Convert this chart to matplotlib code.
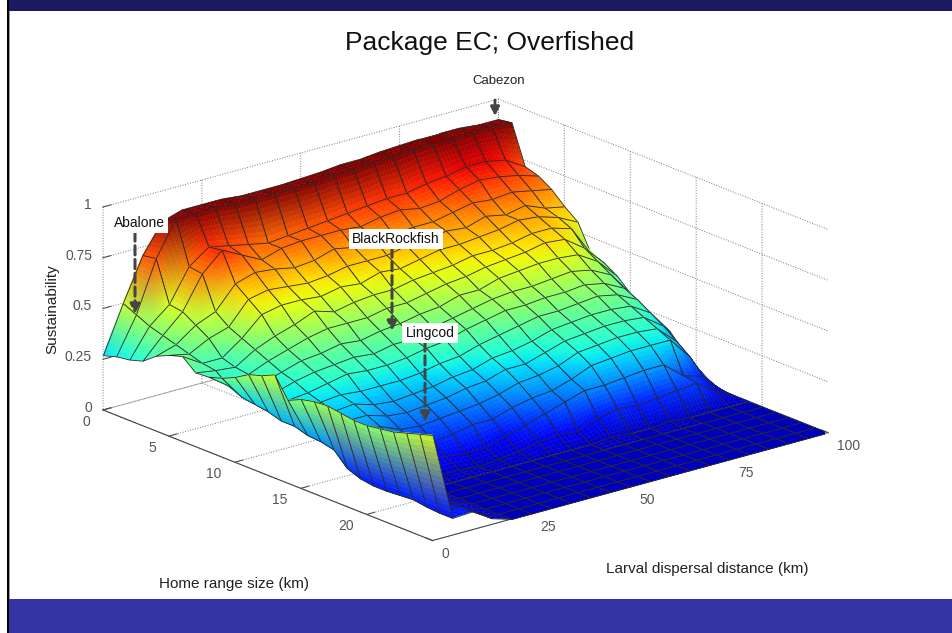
import numpy as np
import matplotlib
matplotlib.use("Agg")
import matplotlib.pyplot as plt
from matplotlib.patches import Rectangle
from mpl_toolkits.mplot3d.art3d import Poly3DCollection
from mpl_toolkits.mplot3d import proj3d

plt.rcParams['font.family'] = ['Liberation Sans', 'DejaVu Sans']

home_range = list(range(0, 26))
dispersal = list(range(0, 105, 5))
sustainability = [
 [.27,.50,.71,.85,.88,.88,.88,.87,.87,.87,.875,.88,.89,.89,.90,.905,.91,.91,.91,.90,.90],
 [.29,.47,.72,.888,.89,.89,.88,.88,.88,.88,.88,.89,.89,.90,.90,.91,.91,.91,.915,.915,.91],
 [.30,.44,.52,.68,.75,.73,.71,.69,.70,.71,.72,.73,.74,.75,.75,.77,.78,.80,.80,.78,.72],
 [.32,.42,.51,.67,.76,.71,.66,.69,.70,.70,.70,.69,.71,.72,.70,.71,.74,.76,.75,.73,.70],
 [.37,.40,.47,.51,.62,.65,.64,.62,.63,.66,.64,.66,.65,.66,.66,.68,.70,.69,.70,.68,.66],
 [.40,.38,.43,.46,.57,.59,.58,.57,.58,.60,.60,.60,.62,.62,.64,.63,.66,.64,.66,.62,.60],
 [.42,.36,.36,.43,.52,.54,.54,.53,.55,.54,.57,.56,.58,.60,.60,.61,.62,.64,.63,.60,.55],
 [.365,.35,.34,.40,.44,.47,.51,.48,.50,.51,.51,.53,.54,.55,.57,.57,.58,.60,.60,.57,.42],
 [.37,.30,.33,.37,.40,.43,.45,.45,.45,.47,.47,.49,.51,.52,.54,.55,.56,.58,.57,.50,.40],
 [.39,.27,.31,.34,.37,.38,.40,.39,.41,.42,.44,.45,.48,.48,.51,.52,.53,.53,.52,.46,.36],
 [.42,.26,.29,.32,.34,.35,.36,.35,.37,.37,.40,.42,.44,.46,.47,.47,.48,.49,.47,.42,.30],
 [.46,.25,.28,.29,.31,.33,.32,.32,.33,.35,.36,.39,.41,.43,.43,.44,.44,.45,.43,.38,.26],
 [.48,.23,.26,.27,.28,.27,.27,.27,.28,.30,.31,.34,.36,.38,.40,.40,.41,.42,.40,.35,.22],
 [.51,.23,.24,.25,.26,.23,.22,.23,.24,.26,.27,.30,.31,.33,.36,.37,.38,.38,.37,.31,.19],
 [.41,.21,.22,.23,.23,.20,.19,.20,.21,.23,.24,.27,.27,.30,.33,.34,.35,.35,.34,.27,.12],
 [.44,.205,.19,.21,.20,.16,.15,.16,.17,.18,.20,.23,.24,.26,.30,.31,.32,.32,.31,.22,.03],
 [.455,.19,.15,.17,.16,.11,.10,.11,.13,.13,.16,.18,.19,.22,.26,.27,.28,.28,.28,.17,0],
 [.46,.125,.10,.10,.08,.06,.05,.04,.04,.07,.10,.13,.16,.19,.19,.20,.21,.21,.13,.10,0],
 [.45,.10,.07,.03,.02,.01,.01,0,.01,.02,.04,.05,.04,.08,.10,.09,.10,.11,.12,.05,0],
 [.44,.09,.06,.02,0,0,0,0,0,0,0,0,0,.01,0,0,.01,0,0,0,0],
 [.44,.09,.07,.02,0,0,0,0,0,0,0,0,0,0,0,0,0,0,0,0,0],
 [.45,.095,.07,.02,0,0,0,0,0,0,0,0,0,0,0,0,0,0,0,0,0],
 [.46,.10,.08,.03,0,0,0,0,0,0,0,0,0,0,0,0,0,0,0,0,0],
 [.48,.09,.08,.03,0,0,0,0,0,0,0,0,0,0,0,0,0,0,0,0,0],
 [.50,.085,.09,.03,0,0,0,0,0,0,0,0,0,0,0,0,0,0,0,0,0],
 [.52,.085,.09,.03,0,0,0,0,0,0,0,0,0,0,0,0,0,0,0,0,0],
]
dispersal_ticks = [0, 25, 50, 75, 100]
home_ticks = [0, 5, 10, 15, 20]
sust_ticks = [0, 0.25, 0.5, 0.75, 1]
sust_labels = ['0', '0.25', '0.5', '0.75', '1']
title = 'Package EC; Overfished'
callouts = [('Abalone', 139, 223, 135, 232, 135, 314),
            ('BlackRockfish', 396, 239, 392, 248, 392, 331),
            ('Lingcod', 430, 333, 425, 342, 425, 422)]

W, H = 952, 633
fig = plt.figure(figsize=(W/100, H/100), dpi=100, facecolor='white')
ax = fig.add_axes([0.1, 0.1, 600/W, 600/H], projection='3d', proj_type='ortho')
ax.computed_zorder = False
ax.patch.set_alpha(0)
ax.set_box_aspect((514, 516, 215), zoom=1.0)
ax.view_init(elev=19.2, azim=-129.7)
ax.set_xlim(0, 100, view_margin=0)
ax.set_ylim(25, 0, view_margin=0)
ax.set_zlim(0, 1, view_margin=0)

# surface, painted back to front; colours blend between the corners of each cell
X = np.array(dispersal, float)
Y = np.array(home_range, float)
Z = np.array(sustainability, float)
cmap = plt.get_cmap('jet')
norm = plt.Normalize(-0.05, 0.88, clip=True)
order = 10
for i in range(len(Y) - 1):
    for j in range(len(X) - 2, -1, -1):
        c = np.array([Z[i, j], Z[i, j+1], Z[i+1, j+1], Z[i+1, j]])
        rgb = np.array(cmap(norm(c)))[:, :3]
        rng = c.max() - c.min()
        n = 1 if rng < 1e-6 else int(min(14, 3 + rng * 30))
        u = np.linspace(0, 1, n + 1)
        polys, cols = [], []
        for a in range(n):
            for b in range(n):
                pts = []
                for (p, q) in ((u[a], u[b]), (u[a+1], u[b]), (u[a+1], u[b+1]), (u[a], u[b+1])):
                    w = np.array([(1-p)*(1-q), p*(1-q), p*q, (1-p)*q])
                    pts.append((X[j] + p*(X[j+1]-X[j]), Y[i] + q*(Y[i+1]-Y[i]), float(w @ c)))
                p, q = (u[a] + u[a+1]) / 2, (u[b] + u[b+1]) / 2
                w = np.array([(1-p)*(1-q), p*(1-q), p*q, (1-p)*q])
                polys.append(pts)
                cols.append(tuple(w @ rgb))
        pc = Poly3DCollection(polys, facecolors=cols, edgecolors=cols, linewidths=0.3)
        pc.set_zorder(order)
        ax.add_collection3d(pc)
        order += 1
        outline = [[(X[j], Y[i], c[0]), (X[j+1], Y[i], c[1]), (X[j+1], Y[i+1], c[2]), (X[j], Y[i+1], c[3])]]
        oc = Poly3DCollection(outline, facecolors=(0, 0, 0, 0), edgecolors='#2a2a2a', linewidths=0.6)
        oc.set_zorder(order)
        ax.add_collection3d(oc)
        order += 1

ax.set_xticks(dispersal_ticks)
ax.set_yticks(home_ticks)
ax.set_zticks(sust_ticks)
for axis in (ax.xaxis, ax.yaxis, ax.zaxis):
    axis.set_pane_color((1, 1, 1, 0))
    axis.pane.set_edgecolor((1, 1, 1, 0))
    axis._axinfo['grid'].update(color='#777777', linestyle=':', linewidth=0.7)
    axis._axinfo['tick'].update(inward_factor=0.0, outward_factor=0.25)
    axis.line.set_color('#444444')
    axis.line.set_linewidth(0.8)
    axis.set_ticklabels([])
ax.zaxis.line.set_color((1, 1, 1, 0))
ax.tick_params(colors='#555555', width=0.7)

# place the box so the axes corners sit where the picture has them
fig.canvas.draw()
def px(p):
    x2, y2, _ = proj3d.proj_transform(p[0], p[1], p[2], ax.get_proj())
    d = ax.transData.transform((x2, y2))
    return np.array([d[0], H - d[1]])
A, C = px((0, 0, 0)), px((100, 25, 0))
scale = (828 - 103) / (C[0] - A[0])
side = 600 * scale
fig_pos = np.array([0.1 * W, 0.1 * H])
off = np.array([A[0] - fig_pos[0], (H - A[1]) - fig_pos[1]]) * scale
left = 103 - off[0]
bottom = (H - 410) - off[1]
ax.set_position([left / W, bottom / H, side / W, side / H])
fig.canvas.draw()

# slide frame and annotations, in picture pixels
ov = fig.add_axes([0, 0, 1, 1], zorder=5)
ov.set_xlim(0, W)
ov.set_ylim(H, 0)
ov.axis('off')
ov.add_patch(Rectangle((7, 0), W - 7, 11, color='#1a1a60', lw=0))
ov.add_patch(Rectangle((9, 599), W - 9, 34, color='#3333a4', lw=0))
ov.add_patch(Rectangle((7, 0), 2.2, H, color='#000000', lw=0))
ov.add_patch(Rectangle((9.2, 11), 1, 588, color='#999999', lw=0))

# tick labels, placed from the projected tick positions
tick_kw = dict(fontsize=10, color='#555555', va='center')
for v in dispersal_ticks:
    p = px((v, 25, 0))
    ov.text(p[0] + 9, p[1] + 13, str(v), ha='left', **tick_kw)
for v in home_ticks:
    p = px((0, v, 0))
    ov.text(p[0] - 13, p[1] + 12, str(v), ha='right', **tick_kw)
for v, s in zip(sust_ticks, sust_labels):
    p = px((0, 0, v))
    ov.text(p[0] - 11, p[1] - 2, s, ha='right', **tick_kw)

ov.text(490, 43, title, fontsize=19, ha='center', va='center', color='#111111')
ov.text(499, 81, 'Cabezon', fontsize=9.5, ha='center', va='center', color='#222222')
ov.text(234, 584, 'Home range size (km)', fontsize=11, ha='center', va='center', color='#222222')
ov.text(707, 569, 'Larval dispersal distance (km)', fontsize=11, ha='center', va='center', color='#222222')
ov.text(52, 309, 'Sustainability', fontsize=11, rotation=90, ha='center', va='center', color='#222222')
ov.annotate('', xy=(495, 116), xytext=(495, 100),
            arrowprops=dict(arrowstyle='-|>', color='#444444', lw=2, mutation_scale=13, shrinkA=0, shrinkB=0))
for name, tx, ty, x0, y0, x1, y1 in callouts:
    ov.annotate('', xy=(x1, y1), xytext=(x0, y0),
                arrowprops=dict(arrowstyle='-|>', color='#444444', lw=2.2, ls=(0, (3, 1.5)),
                                mutation_scale=14, shrinkA=0, shrinkB=0))
    ov.text(tx, ty, name, fontsize=10, ha='center', va='center', color='#111111',
            bbox=dict(facecolor='white', edgecolor='none', pad=2.5))

fig.savefig('out.png', dpi=100)
